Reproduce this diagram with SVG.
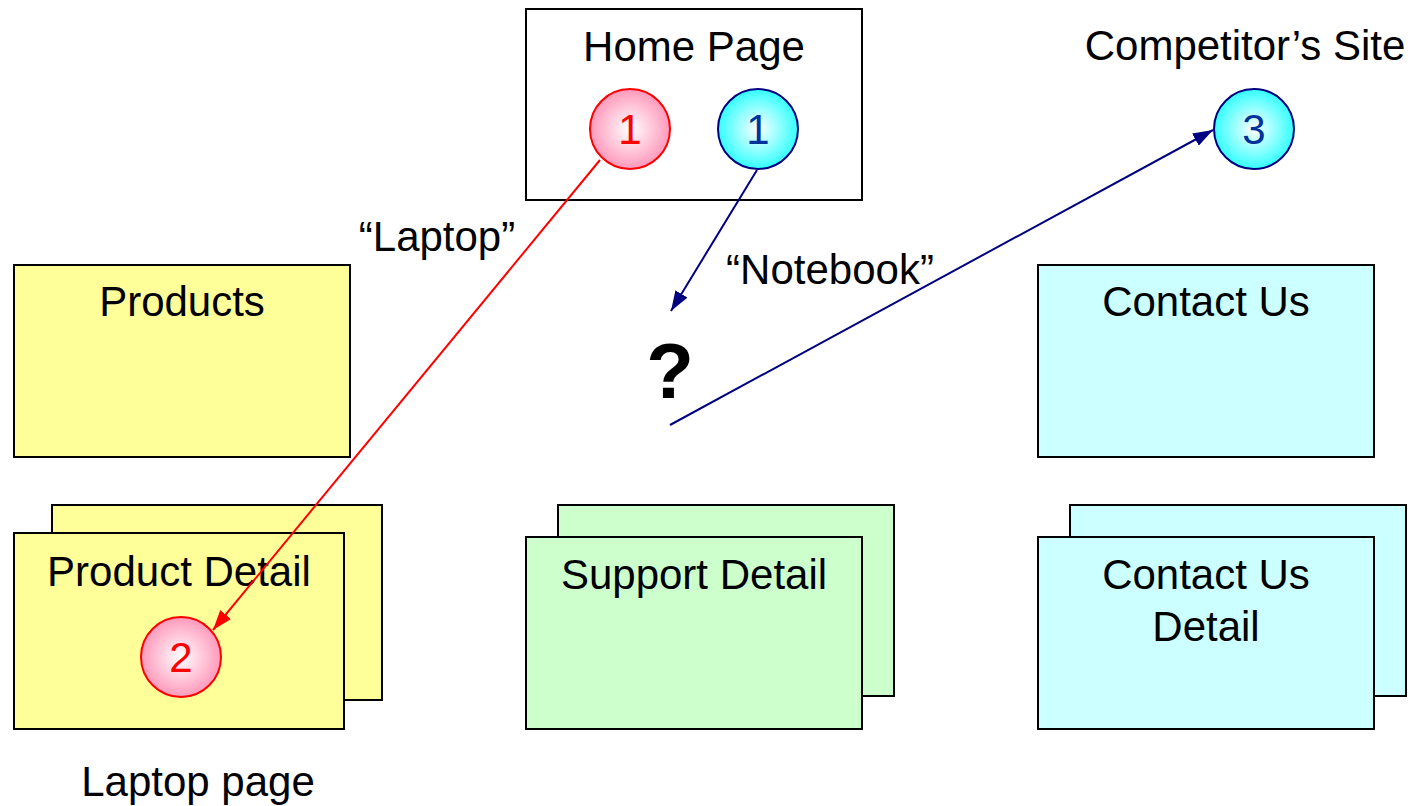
<svg xmlns="http://www.w3.org/2000/svg" width="1416" height="806" viewBox="0 0 1416 806">
<defs>
<radialGradient id="gr" cx="0.5" cy="0.5" r="0.5"><stop offset="0" stop-color="#FFFFFF"/><stop offset="1" stop-color="#FF99BB"/></radialGradient>
<radialGradient id="gb" cx="0.5" cy="0.5" r="0.5"><stop offset="0" stop-color="#FFFFFF"/><stop offset="1" stop-color="#33FFFF"/></radialGradient>
<marker id="ar" viewBox="0 0 20 14" refX="20" refY="7" markerWidth="20" markerHeight="14" markerUnits="userSpaceOnUse" orient="auto"><path d="M0,0 L20,7 L0,14 Z" fill="#FF0000"/></marker>
<marker id="ab" viewBox="0 0 20 14" refX="20" refY="7" markerWidth="20" markerHeight="14" markerUnits="userSpaceOnUse" orient="auto"><path d="M0,0 L20,7 L0,14 Z" fill="#000080"/></marker>
<style>
text{font-family:"Liberation Sans",Arial,sans-serif;font-size:42px;text-anchor:middle;fill:#000}
.box{stroke:#000;stroke-width:2}
.y{fill:#FFFF99}.g{fill:#CCFFCC}.c{fill:#CCFFFF}.w{fill:#FFFFFF}
.rc{fill:url(#gr);stroke:#FF0000;stroke-width:2}
.bc{fill:url(#gb);stroke:#000080;stroke-width:2}
.rn{fill:#FF0000;font-size:42px}
.bn{fill:#003399;font-size:42px}
</style>
</defs>
<rect width="1416" height="806" fill="#FFFFFF"/>
<g id="home">
<rect class="box w" x="526" y="9" width="336" height="191"/>
<text x="694" y="61">Home Page</text>
</g>
<g id="circle-red-1"><circle class="rc" cx="630" cy="129" r="40"/><text class="rn" x="630" y="144">1</text></g>
<g id="circle-blue-1"><circle class="bc" cx="758" cy="129" r="40"/><text class="bn" x="758" y="144">1</text></g>
<g id="competitor">
<text x="1245" y="60">Competitor’s Site</text>
<circle class="bc" cx="1254" cy="129" r="40"/><text class="bn" x="1254" y="144">3</text>
</g>
<g id="products"><rect class="box y" x="14" y="265" width="336" height="192"/><text x="182" y="316">Products</text></g>
<g id="contact"><rect class="box c" x="1038" y="265" width="336" height="192"/><text x="1206" y="316">Contact Us</text></g>
<g id="product-detail">
<rect class="box y" x="52" y="505" width="330" height="195"/>
<rect class="box y" x="14" y="533" width="330" height="196"/>
<text x="179" y="586">Product Detail</text>
</g>
<g id="circle-red-2"><circle class="rc" cx="181" cy="657" r="40"/><text class="rn" x="181" y="672">2</text></g>
<g id="support-detail">
<rect class="box g" x="558" y="505" width="336" height="191"/>
<rect class="box g" x="526" y="537" width="336" height="192"/>
<text x="694" y="589">Support Detail</text>
</g>
<g id="contact-detail">
<rect class="box c" x="1070" y="505" width="336" height="191"/>
<rect class="box c" x="1038" y="537" width="336" height="192"/>
<text x="1206" y="589">Contact Us</text>
<text x="1206" y="641">Detail</text>
</g>
<g id="question"><text x="670" y="398" style="font-weight:bold;font-size:78px">?</text></g>
<g id="labels">
<text x="437" y="251">“Laptop”</text>
<text x="830" y="284">“Notebook”</text>
<text x="198" y="796">Laptop page</text>
</g>
<g id="connectors" fill="none">
<line x1="600" y1="160" x2="213" y2="630" stroke="#FF0000" stroke-width="2" marker-end="url(#ar)"/>
<line x1="757" y1="170" x2="671" y2="311" stroke="#000080" stroke-width="2" marker-end="url(#ab)"/>
<line x1="670" y1="425" x2="1213" y2="130" stroke="#000080" stroke-width="2" marker-end="url(#ab)"/>
</g>
</svg>
